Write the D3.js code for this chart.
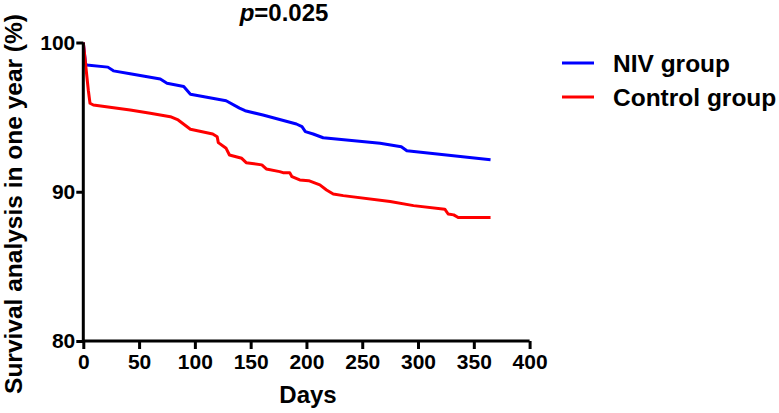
<!DOCTYPE html>
<html>
<head>
<meta charset="utf-8">
<script src="https://cdn.jsdelivr.net/npm/d3@7"></script>
<style>
  body { margin: 0; background: #fff; }
  text { font-family: "Liberation Sans", Arial, sans-serif; font-weight: bold; fill: #000; }
</style>
</head>
<body>
<div id="chart"></div>
<script>
// Kaplan-Meier style survival curves
const nivDays   = [0, 2, 3, 22, 27, 42, 69, 75, 90, 96, 128, 140, 145, 161, 191, 196, 199, 206, 215, 266, 285, 290, 365];
const nivSurv   = [100, 98.6, 98.5, 98.35, 98.1, 97.9, 97.55, 97.27, 97.05, 96.53, 96.1, 95.6, 95.43, 95.14, 94.54, 94.36, 94.03, 93.87, 93.62, 93.25, 93.02, 92.75, 92.15];
const ctrlDays  = [0, 4.5, 6, 9, 42, 60, 78, 85, 96, 116, 120, 121, 128, 131, 142, 146, 160, 164, 176, 179, 185, 187, 194, 202, 212, 218, 224, 233, 275, 296, 324, 327, 332, 336, 365];
const ctrlSurv  = [100, 96.8, 95.93, 95.81, 95.48, 95.26, 95.03, 94.81, 94.19, 93.87, 93.69, 93.29, 92.91, 92.46, 92.24, 91.95, 91.8, 91.53, 91.35, 91.28, 91.28, 91.01, 90.79, 90.74, 90.46, 90.12, 89.85, 89.74, 89.34, 89.07, 88.83, 88.51, 88.45, 88.27, 88.27];
const groups    = ["NIV group", "Control group"];
const colors    = ["#0000ff", "#ff0000"];
const xTicks    = [0, 50, 100, 150, 200, 250, 300, 350, 400];
const yTicks    = [80, 90, 100];

const width = 779, height = 413;
const margin = { top: 42.5, left: 83.3, bottom: 72, right: 249.4 };

const svg = d3.select("#chart").append("svg")
    .attr("width", width)
    .attr("height", height);

const x = d3.scaleLinear([0, 400], [margin.left, width - margin.right]);
const y = d3.scaleLinear([80, 100], [height - margin.bottom, margin.top]);

// Curves
const line = d3.line()
    .x(function(d) { return x(d[0]); })
    .y(function(d) { return y(d[1]); });

const series = [d3.zip(nivDays, nivSurv), d3.zip(ctrlDays, ctrlSurv)];

svg.append("g")
    .attr("fill", "none")
    .attr("stroke-width", 3)
    .attr("stroke-linejoin", "round")
    .selectAll("path")
    .data(series)
    .join("path")
    .attr("stroke", function(d, i) { return colors[i]; })
    .attr("d", line);

// Axes
const xAxis = svg.append("g")
    .attr("transform", `translate(0,${y(80)})`)
    .call(d3.axisBottom(x).tickValues(xTicks).tickSize(8).tickPadding(5));

const yAxis = svg.append("g")
    .attr("transform", `translate(${x(0)},0)`)
    .call(d3.axisLeft(y).tickValues(yTicks).tickSize(7).tickPadding(1));

[xAxis, yAxis].forEach(function(g) {
    g.select(".domain").attr("stroke", "#000").attr("stroke-width", 3);
    g.selectAll(".tick line").attr("stroke", "#000").attr("stroke-width", 3);
    g.selectAll(".tick text")
        .attr("font-family", "Liberation Sans, Arial, sans-serif")
        .attr("font-weight", "bold")
        .attr("font-size", 21)
        .attr("fill", "#000");
});
// remove outer tick caps from the domain path
xAxis.select(".domain").attr("d", `M${x(0)},0H${x(400)}`);
yAxis.select(".domain").attr("d", `M0,${y(80)}V${y(100)}`);

// Title
const title = svg.append("text")
    .attr("x", 284)
    .attr("y", 21)
    .attr("text-anchor", "middle")
    .attr("font-size", 24);
title.append("tspan").attr("font-style", "italic").text("p");
title.append("tspan").text("=0.025");

// Axis titles
svg.append("text")
    .attr("x", 308)
    .attr("y", 403)
    .attr("text-anchor", "middle")
    .attr("font-size", 24)
    .text("Days");

svg.append("text")
    .attr("transform", "translate(22,204) rotate(-90)")
    .attr("text-anchor", "middle")
    .attr("font-size", 24.5)
    .text("Survival analysis in one year (%)");

// Legend
const legend = svg.append("g")
    .selectAll("g")
    .data(groups)
    .join("g")
    .attr("transform", function(d, i) { return `translate(562,${63 + i * 34})`; });

legend.append("line")
    .attr("x1", 0).attr("x2", 32)
    .attr("stroke-width", 3)
    .attr("stroke", function(d, i) { return colors[i]; });

legend.append("text")
    .attr("x", 51)
    .attr("y", 8.5)
    .attr("font-size", 24.5)
    .text(function(d) { return d; });
</script>
</body>
</html>
